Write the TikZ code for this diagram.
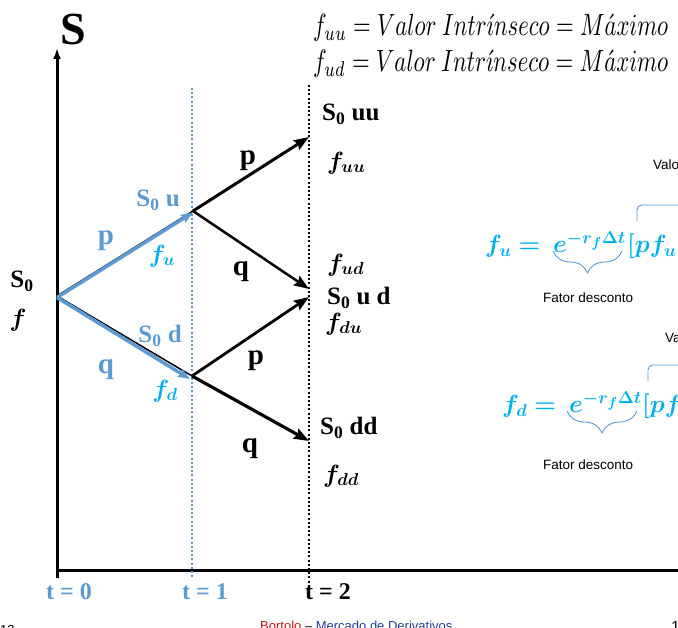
\documentclass[tikz,border=0pt]{standalone}
\usepackage{amsmath,bm}
\usepackage{graphicx}
\usepackage{fontspec}
\setmainfont{Liberation Serif}
\newfontfamily\arialfont{Liberation Sans}
\usetikzlibrary{arrows.meta,decorations.pathreplacing}
\definecolor{lblue}{RGB}{91,155,213}
\definecolor{fcyan}{RGB}{0,176,240}
\definecolor{fred}{RGB}{200,20,20}
\definecolor{fnavy}{RGB}{30,60,160}
\tikzset{
  axis/.style={line width=3pt},
  slbl/.style={font=\bfseries\fontsize{25}{25}\selectfont, inner sep=0pt},
  plbl/.style={font=\bfseries\fontsize{29}{29}\selectfont, inner sep=0pt},
  tlbl/.style={font=\bfseries\fontsize{24}{24}\selectfont, inner sep=0pt},
  fblk/.style={font=\fontsize{26}{26}\selectfont, inner sep=0pt},
  fcy/.style={font=\fontsize{23}{23}\selectfont, inner sep=0pt, text=fcyan},
  eqn/.style={font=\fontsize{27}{27}\selectfont, inner sep=0pt, text=fcyan, anchor=base west},
  small/.style={font=\arialfont\fontsize{13.5}{13.5}\selectfont, inner sep=0pt},
  foot/.style={font=\arialfont\fontsize{13}{13}\selectfont, inner sep=0pt, anchor=base west},
  topf/.style={inner sep=0pt, anchor=base west},
  blk/.style={line width=3pt, -{Stealth[length=15pt,width=11pt,inset=2pt]}},
  blu/.style={draw=lblue, line width=3.5pt, -{Stealth[length=12pt,width=9pt,inset=2pt]}},
  brc/.style={draw=lblue, line width=0.9pt},
  dotb/.style={draw=lblue, line width=2.2pt, dash pattern=on 2pt off 2.2pt},
  dotk/.style={draw=black, line width=2.2pt, dash pattern=on 2pt off 2.2pt},
}
\newcommand{\topformula}[1]{\resizebox{355pt}{!}{\scalebox{1}[1.35]{$#1 = Valor\ Intr\acute{\imath}nseco = M\acute{a}ximo$}}}
\begin{document}
\begin{tikzpicture}[x=1pt,y=-1pt]
\useasboundingbox (0,0) rectangle (678,628);
% tree points
\coordinate (r) at (57,296);
\coordinate (u) at (193,211);
\coordinate (d) at (192,376);
\coordinate (uu) at (309,137);
\coordinate (ud) at (309,289);
\coordinate (du) at (309,297);
\coordinate (dd) at (309,441);
% axes
\coordinate (ybot) at (57,578);
\coordinate (ytop) at (57,48);
\coordinate (xl) at (57,570);
\coordinate (xr) at (690,570);
\draw[line width=3pt, -{Latex[length=11pt,width=8pt]}] (ybot) -- (ytop);
\draw[axis] (xl) -- (xr);
% dotted time lines
\coordinate (b1) at (192,88);
\coordinate (b2) at (192,578);
\coordinate (k1) at (309,85);
\coordinate (k2) at (309,592);
\draw[dotb] (b1) -- (b2);
\draw[dotk] (k1) -- (k2);
% first step
\draw[line width=1.5pt] (r) -- (u);
\draw[line width=1.5pt] (r) -- (d);
\draw[blu] ([yshift=-1.5pt]r) -- ([yshift=-1.5pt]u);
\draw[blu] ([yshift=-1.5pt]r) -- ([xshift=-2pt,yshift=-3pt]d);
% second step
\draw[blk] (u) -- (uu);
\draw[blk, line width=2.5pt] (u) -- (ud);
\draw[blk, line width=2.8pt] (d) -- (du);
\draw[blk, line width=3.2pt] (d) -- (dd);
% labels
\node[font=\bfseries\fontsize{46}{46}\selectfont, inner sep=0pt] (S) at (73,30) {S};
\node[slbl] (s0) at (22,281) {S\textsubscript{0}};
\node[fblk] (f0) at (18,320) {$\bm{f}$};
\node[plbl, text=lblue] (pu) at (106,241) {p};
\node[plbl, text=lblue] (qd) at (106,370) {q};
\node[slbl, text=lblue] (s0u) at (158,200) {S\textsubscript{0} u};
\node[fcy] (fu) at (162,256) {$\bm{f_u}$};
\node[slbl, text=lblue] (s0d) at (160,336) {S\textsubscript{0} d};
\node[fcy] (fd) at (165,391) {$\bm{f_d}$};
\node[plbl] (p1) at (248,161) {p};
\node[plbl] (q1) at (241,272) {q};
\node[plbl] (p2) at (256,361) {p};
\node[plbl] (q2) at (250,449) {q};
\node[slbl, anchor=west] (s0uu) at (322,114) {S\textsubscript{0} uu};
\node[fblk, anchor=west] (fuu) at (327,163) {$\bm{f_{uu}}$};
\node[fblk, anchor=west] (fud) at (327,265) {$\bm{f_{ud}}$};
\node[slbl, anchor=west] (s0ud) at (327,298) {S\textsubscript{0} u d};
\node[fblk, anchor=west] (fdu) at (325,324) {$\bm{f_{du}}$};
\node[slbl, anchor=west] (s0dd) at (320,428) {S\textsubscript{0} dd};
\node[fblk, anchor=west] (fdd) at (323,476) {$\bm{f_{dd}}$};
% time labels
\node[tlbl, text=lblue] (t0) at (69,592) {t = 0};
\node[tlbl, text=lblue] (t1) at (205,592) {t = 1};
\node[tlbl] (t2) at (328,592) {t = 2};
% top formulas
\node[topf] (top1) at (313,36) {\topformula{f_{uu}}};
\node[topf] (top2) at (313,72) {\topformula{f_{ud}}};
% right formula 1
\node[eqn] (l1) at (485,253) {$\bm{f_u =}$};
\node[eqn] (e1) at (553,253) {$\bm{e^{-r_f\Delta t}}$};
\node[eqn] (b1r) at (627,253) {$\bm{[pf_u}$};
\draw[brc, decorate, decoration={brace, mirror, amplitude=22pt}] (553,251) -- (622,251);
\draw[brc] (637,221) -- (637,210) to[out=90,in=180] (642,205) -- (690,205);
\node[small, anchor=base west] (fat1) at (543,303) {Fator desconto};
\node[small, anchor=base west] (val1) at (653,170) {Valor};
% right formula 2
\node[eqn] (l2) at (502,413) {$\bm{f_d =}$};
\node[eqn] (e2) at (569,413) {$\bm{e^{-r_f\Delta t}}$};
\node[eqn] (b2r) at (642,413) {$\bm{[pf_d}$};
\draw[brc, decorate, decoration={brace, mirror, amplitude=22pt}] (567,411) -- (637,411);
\draw[brc] (648,381) -- (648,370) to[out=90,in=180] (653,365) -- (690,365);
\node[small, anchor=base west] (fat2) at (543,470) {Fator desconto};
\node[small, anchor=base west] (val2) at (665,343) {Valor};
% footer (cut by the page edge)
\node[foot] (pg) at (0,634) {13};
\node[foot] (ft) at (260,630) {\textcolor{fred}{Bortolo} – \textcolor{fnavy}{Mercado de Derivativos}};
\node[foot, font=\arialfont\fontsize{16}{16}\selectfont] (pn) at (671,632) {14};
\end{tikzpicture}
\end{document}
